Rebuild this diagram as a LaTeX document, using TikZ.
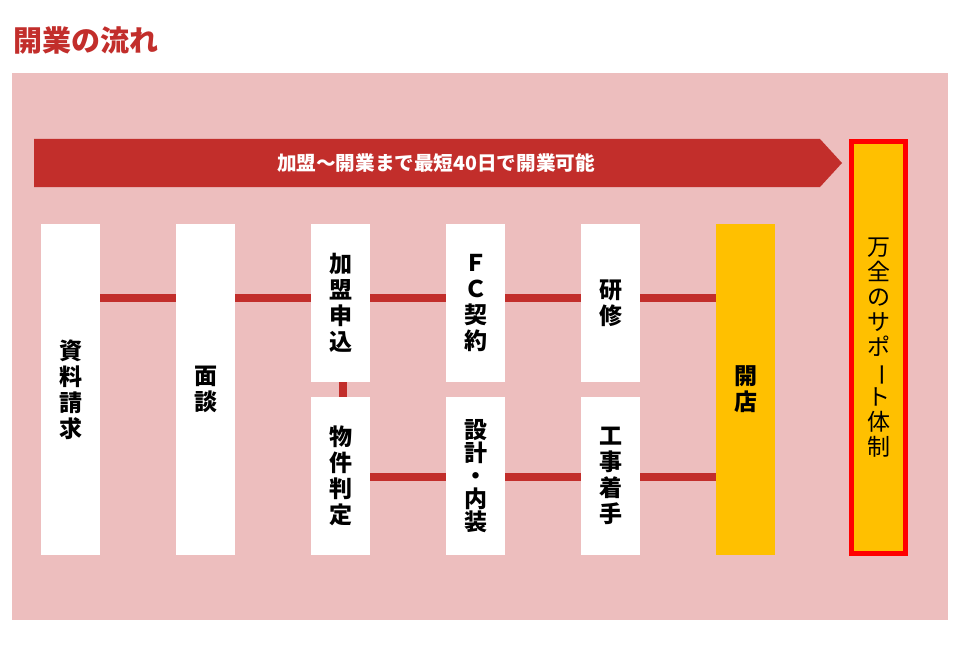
\documentclass[tikz,border=0pt]{standalone}
\usepackage{fontspec}
\setmainfont{Noto Sans CJK JP}
\usepackage{graphicx}
\usetikzlibrary{calc}
\definecolor{flowred}{RGB}{194,46,43}
\definecolor{panelpink}{RGB}{237,190,190}
\definecolor{openyellow}{RGB}{255,192,0}
\pgfdeclarelayer{panel}
\pgfdeclarelayer{links}
\pgfsetlayers{panel,links,main}

\begin{document}
\begin{tikzpicture}[x=1pt, y=-1pt, font=\bfseries\fontsize{23}{26}\selectfont,
	stepbox/.style={fill=white, minimum width=59pt, align=center, inner sep=0pt},
	tall/.style={minimum height=331pt},
	short/.style={minimum height=158pt},
	link/.style={draw=flowred, line width=8pt}]
	\useasboundingbox (0,0) rectangle (960,647);
	% title and panel
	\begin{pgfonlayer}{panel}
		\fill[white] (0,0) rectangle (960,647);
		\fill[panelpink] (12,73) rectangle (948,620);
	\end{pgfonlayer}
	\node[anchor=west, text=flowred, font=\bfseries\fontsize{29}{30}\selectfont] (title) at (10,40) {開業の流れ};
	% banner arrow
	\fill[flowred] (34,139) -- (820,139) -- (842,163) -- (820,187) -- (34,187) -- cycle;
	\node[text=white, font=\bfseries\fontsize{19.6}{22}\selectfont] (banner) at (436,163) {加盟～開業まで最短40日で開業可能};
	% steps
	\node[stepbox, tall] (req) at (70.5,389.5) {資\\料\\請\\求};
	\node[stepbox, tall] (talk) at (205.5,389.5) {面\\談};
	\node[stepbox, short] (apply) at (340.5,303) {加\\盟\\申\\込};
	\node[stepbox, short] (site) at (340.5,476) {物\\件\\判\\定};
	\node[stepbox, short] (fc) at (475.5,303) {Ｆ\\Ｃ\\契\\約};
	\node[stepbox, short, font=\bfseries\fontsize{23}{23}\selectfont] (design) at (475.5,476) {設\\計\\・\\内\\装};
	\node[stepbox, short] (train) at (610.5,303) {研\\修};
	\node[stepbox, short] (build) at (610.5,476) {工\\事\\着\\手};
	\node[stepbox, tall, fill=openyellow] (open) at (745.5,389.5) {開\\店};
	\node[draw=red, line width=5pt, fill=openyellow, minimum width=54pt, minimum height=412pt, align=center, inner sep=0pt,
		font=\fontsize{23}{25}\selectfont] (support) at (878.5,347.5) {万\\全\\の\\サ\\ポ\\\rotatebox[origin=c]{-90}{ー}\\ト\\体\\制};
	% connectors
	\coordinate (toprow) at (0,298);
	\coordinate (botrow) at (0,477);
	\begin{pgfonlayer}{links}
		\draw[link] (req.east |- toprow) -- (open.west |- toprow);
		\draw[link] (site.east |- botrow) -- (open.west |- botrow);
		\draw[link] ([xshift=2pt]apply.south) -- ([xshift=2pt]site.north);
	\end{pgfonlayer}
\end{tikzpicture}
\end{document}
